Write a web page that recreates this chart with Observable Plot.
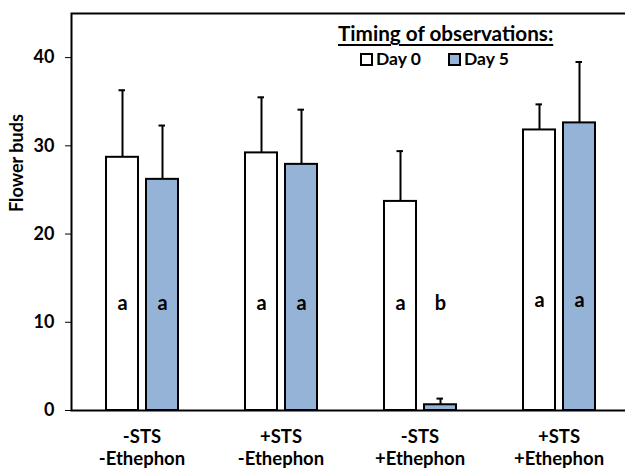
<!DOCTYPE html>
<html>
<head>
<meta charset="utf-8">
<script src="https://cdn.jsdelivr.net/npm/d3@7"></script>
<script src="https://cdn.jsdelivr.net/npm/@observablehq/plot@0.6"></script>
<style>
  html, body { margin: 0; padding: 0; background: #fff; overflow: hidden; }
  #wrap { position: relative; width: 625px; height: 470px; overflow: hidden; }
  #chart svg { max-width: none !important; }
  #legend { position: absolute; left: 0; top: 0; width: 625px; height: 80px; pointer-events: none;
            font-family: Lato, "Open Sans", sans-serif; font-weight: bold; color: #000; }
  #legend .title { position: absolute; left: 338px; top: 21px; font-size: 20.7px; line-height: 24px; text-decoration: underline; text-underline-offset: 3px; text-decoration-thickness: 2px; white-space: nowrap; }
  #legend .item { position: absolute; top: 48px; font-size: 17.5px; line-height: 22px; white-space: nowrap; display: flex; align-items: center; }
  #legend .sw { width: 9px; height: 9px; border: 2px solid #000; margin-right: 3px; box-sizing: content-box; }
</style>
</head>
<body>
<div id="wrap">
  <div id="chart"></div>
  <div id="legend">
    <div class="title">Timing of observations:</div>
    <div class="item" style="left:360px"><div class="sw" style="background:#fff"></div>Day 0</div>
    <div class="item" style="left:448px"><div class="sw" style="background:#95b3d7"></div>Day 5</div>
  </div>
</div>
<script>
// ---- data ----
const groups = ["-STS -Ethephon", "+STS -Ethephon", "-STS +Ethephon", "+STS +Ethephon"];
const groupLabels = ["-STS\n-Ethephon", "+STS\n-Ethephon", "-STS\n+Ethephon", "+STS\n+Ethephon"];
const day0 = [28.7, 29.2, 23.7, 31.8];
const day0Sd = [7.6, 6.3, 5.7, 2.9];
const day5 = [26.2, 27.9, 0.65, 32.6];
const day5Sd = [6.1, 6.2, 0.7, 6.9];
const letters0 = ["a", "a", "a", "a"];
const letters5 = ["a", "a", "b", "a"];
const letterY = [12.1, 12.1, 12.1, 12.5];
const yTicks = [0, 10, 20, 30, 40];

const rows0 = groups.map((g, i) => ({group: g, v: day0[i], top: day0[i] + day0Sd[i], letter: letters0[i], ly: letterY[i]}));
const rows5 = groups.map((g, i) => ({group: g, v: day5[i], top: day5[i] + day5Sd[i], letter: letters5[i], ly: letterY[i]}));
const labelRows = groups.map((g, i) => ({group: g, label: groupLabels[i]}));

const W = 632;
const blue = "#95b3d7";
const font = "Lato, 'Open Sans', sans-serif";

const chart = Plot.plot({
  width: W,
  height: 470,
  marginLeft: 71,
  marginRight: 4,
  marginTop: 13,
  marginBottom: 60,
  style: {fontFamily: font, fontSize: "18px", fontWeight: "bold", color: "#000", background: "#fff", overflow: "visible"},
  x: {domain: groups, padding: 0, axis: null},
  y: {domain: [0, 45], ticks: yTicks, tickSize: 6, tickPadding: 11, label: null, tickFormat: d => String(d)},
  marks: [
    // bars
    Plot.barY(rows0, {x: "group", y: "v", fill: "#fff", stroke: "#000", strokeWidth: 2, insetLeft: 34, insetRight: 73}),
    Plot.barY(rows5, {x: "group", y: "v", fill: blue, stroke: "#000", strokeWidth: 2, insetLeft: 74, insetRight: 33}),
    // error bars
    Plot.ruleX(rows0, {x: "group", y1: "v", y2: "top", dx: -19.5, stroke: "#000", strokeWidth: 2}),
    Plot.ruleX(rows5, {x: "group", y1: "v", y2: "top", dx: 20.5, stroke: "#000", strokeWidth: 2}),
    Plot.tickY(rows0, {x: "group", y: "top", stroke: "#000", strokeWidth: 2, insetLeft: 46.5, insetRight: 86}),
    Plot.tickY(rows5, {x: "group", y: "top", stroke: "#000", strokeWidth: 2, insetLeft: 86.5, insetRight: 46}),
    // significance letters
    Plot.text(rows0, {x: "group", y: "ly", text: "letter", dx: -19.5, fontSize: 20, fontWeight: "bold", fill: "#000"}),
    Plot.text(rows5, {x: "group", y: "ly", text: "letter", dx: 20.5, fontSize: 20, fontWeight: "bold", fill: "#000"}),
    // category labels
    Plot.text(labelRows, {x: "group", text: "label", frameAnchor: "bottom", lineAnchor: "top", dy: 17, lineHeight: 1.2, fontSize: 18.5, fontWeight: "bold", fill: "#000"}),
    // y title
    Plot.text(["Flower buds"], {frameAnchor: "left", rotate: -90, dx: -54, fontSize: 18, fontWeight: "bold", fill: "#000"}),
    Plot.frame({stroke: "#000", strokeWidth: 2})
  ]
});
chart.style.maxWidth = "none";
document.getElementById("chart").appendChild(chart);
</script>
</body>
</html>
